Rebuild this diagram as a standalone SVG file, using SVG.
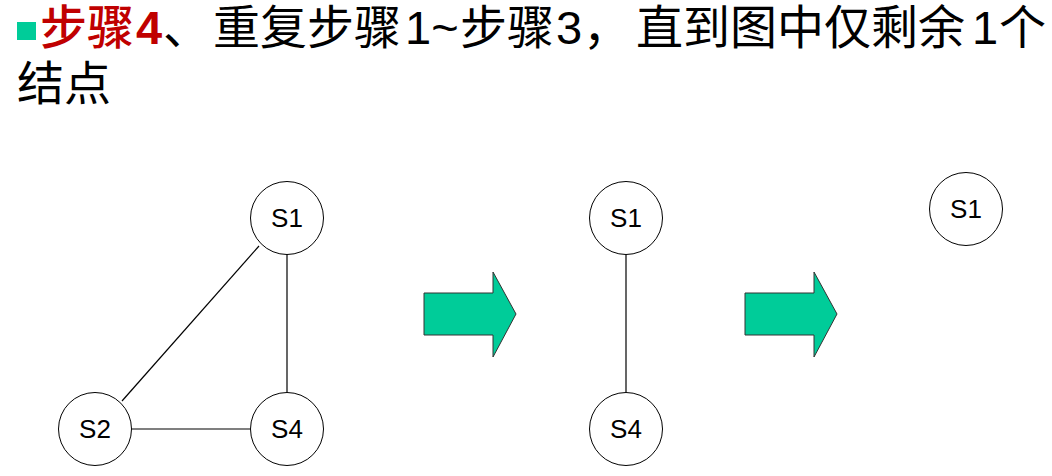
<svg xmlns="http://www.w3.org/2000/svg" width="1052" height="476" viewBox="0 0 1052 476">
<style>
.t{font-family:"Liberation Sans","Noto Sans CJK SC",sans-serif;font-size:47px;fill:#000}
.cjk{font-family:"Noto Sans CJK SC",sans-serif}
.red{fill:#C00000}
.b{font-weight:bold}
.node circle{fill:#fff;stroke:#000;stroke-width:1}
.node text{font-family:"Liberation Sans",Arial,sans-serif;font-size:26px;text-anchor:middle;fill:#000}
.edges line{stroke:#000;stroke-width:1.2}
.arrow{fill:#00CC99;stroke:#333;stroke-width:1}
</style>
<rect width="1052" height="476" fill="#fff"/>
<g id="title">
<rect x="17" y="22" width="19" height="18" fill="#00CC99"/>
<text class="t" y="44"><tspan class="cjk red" x="40" font-weight="500">步骤</tspan><tspan class="red b" x="136">4</tspan><tspan class="cjk" x="163">、</tspan><tspan class="cjk" x="213">重复步骤</tspan><tspan x="405">1~</tspan><tspan class="cjk" x="460">步骤</tspan><tspan x="556">3</tspan><tspan class="cjk" x="583">，</tspan><tspan class="cjk" x="636">直到图中仅剩余</tspan><tspan x="972">1</tspan><tspan class="cjk" x="999">个</tspan></text>
<text class="t cjk" x="17" y="100">结点</text>
</g>
<g class="edges" id="connectors">
<line x1="259" y1="246" x2="122" y2="401"/>
<line x1="287" y1="254" x2="287" y2="392"/>
<line x1="132" y1="429" x2="250" y2="429"/>
<line x1="626" y1="255" x2="626" y2="392"/>
</g>
<g class="node" id="g1-S1"><circle cx="287" cy="218" r="36.5"/><text x="287" y="227">S1</text></g>
<g class="node" id="g1-S2"><circle cx="95" cy="429" r="36.5"/><text x="95" y="438">S2</text></g>
<g class="node" id="g1-S4"><circle cx="287" cy="429" r="36.5"/><text x="287" y="438">S4</text></g>
<g id="arrow1"><polygon class="arrow" points="424,293 493,293 493,272 516,314 493,357 493,335 424,335"/></g>
<g class="node" id="g2-S1"><circle cx="626" cy="218" r="36.5"/><text x="626" y="227">S1</text></g>
<g class="node" id="g2-S4"><circle cx="626" cy="429" r="36.5"/><text x="626" y="438">S4</text></g>
<g id="arrow2"><polygon class="arrow" points="745,293 814,293 814,272 837,314 814,357 814,335 745,335"/></g>
<g class="node" id="g3-S1"><circle cx="966" cy="209" r="36.5"/><text x="966" y="218">S1</text></g>
</svg>
